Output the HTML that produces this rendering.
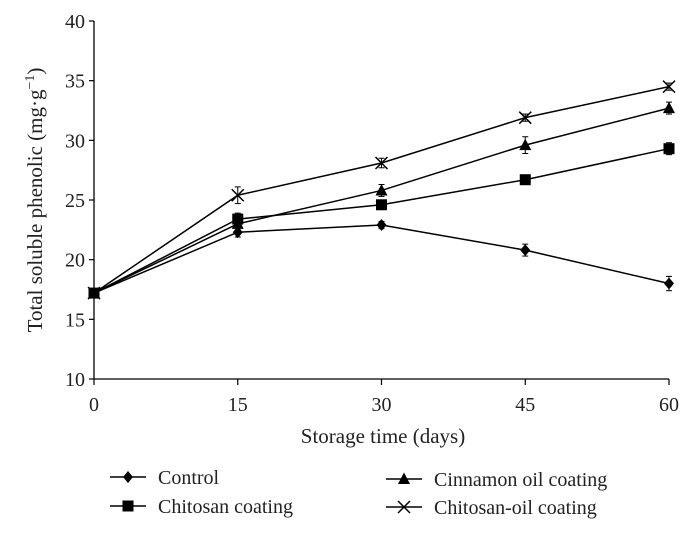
<!DOCTYPE html>
<html><head><meta charset="utf-8"><style>
html,body{margin:0;padding:0;background:#fff;}
svg{display:block;font-family:"Liberation Serif",serif;}
</style></head><body>
<svg id="chart" width="692" height="533" viewBox="0 0 692 533"></svg>
<script>
const days=[0,15,30,45,60];
const yTicks=[10,15,20,25,30,35,40];
const control=[17.2,22.3,22.9,20.8,18.0];
const controlErr=[0.3,0.4,0.3,0.5,0.6];
const chitosan=[17.2,23.4,24.6,26.7,29.3];
const chitosanErr=[0.3,0.5,0.3,0.3,0.5];
const cinnamon=[17.2,23.0,25.8,29.6,32.7];
const cinnamonErr=[0.3,0.5,0.5,0.7,0.5];
const chitoOil=[17.2,25.4,28.1,31.9,34.5];
const chitoOilErr=[0.3,0.7,0.4,0.3,0.3];
const seriesNames=["Control","Chitosan coating","Cinnamon oil coating","Chitosan-oil coating"];

const NS="http://www.w3.org/2000/svg";
const svg=document.getElementById('chart');
const X0=94,X1=669,Y0=379,Y1=21;
const xs=d=>X0+(d-0)/(60-0)*(X1-X0);
const ys=v=>Y0-(v-10)/(40-10)*(Y0-Y1);
function mk(tag,attrs,parent){const e=document.createElementNS(NS,tag);for(const k in attrs)e.setAttribute(k,attrs[k]);(parent||svg).appendChild(e);return e;}

const axes=mk('g',{});


const ya=mk('line',{x1:X0,y1:Y1,x2:X0,y2:Y0,stroke:'#000','stroke-width':1.3},axes);


const xa=mk('line',{x1:X0,y1:Y0,x2:X1,y2:Y0,stroke:'#000','stroke-width':1.3},axes);


yTicks.forEach(v=>{
  mk('line',{x1:X0-5,y1:ys(v),x2:X0,y2:ys(v),stroke:'#000','stroke-width':1.2},axes);
  const t=mk('text',{x:X0-9,y:ys(v)+7,'text-anchor':'end','font-size':20,fill:'#222'},axes);
  t.textContent=v;
  
  
});
days.forEach(d=>{
  mk('line',{x1:xs(d),y1:Y0,x2:xs(d),y2:Y0+6,stroke:'#000','stroke-width':1.2},axes);
  const t=mk('text',{x:xs(d),y:Y0+32,'text-anchor':'middle','font-size':20,fill:'#222'},axes);
  t.textContent=d;
  
  
});
const xt=mk('text',{x:383,y:443,'text-anchor':'middle','font-size':21,fill:'#222'});
xt.textContent='Storage time (days)';


const yt=mk('text',{x:0,y:0,'text-anchor':'middle','font-size':21,fill:'#222',transform:'translate(42,200) rotate(-90)'});
yt.innerHTML='Total soluble phenolic (mg·g<tspan dy="-8" font-size="14">−1</tspan><tspan dy="8">)</tspan>';



function marker(g,type,cx,cy){
  if(type==='diamond')mk('polygon',{points:`${cx},${cy-6} ${cx+5},${cy} ${cx},${cy+6} ${cx-5},${cy}`,fill:'#000'},g);
  else if(type==='square')mk('rect',{x:cx-5.5,y:cy-5.5,width:11,height:11,fill:'#000'},g);
  else if(type==='triangle')mk('polygon',{points:`${cx},${cy-6.5} ${cx+6},${cy+5} ${cx-6},${cy+5}`,fill:'#000'},g);
  else {mk('line',{x1:cx-6,y1:cy-6,x2:cx+6,y2:cy+6,stroke:'#000','stroke-width':1.5},g);mk('line',{x1:cx-6,y1:cy+6,x2:cx+6,y2:cy-6,stroke:'#000','stroke-width':1.5},g);}
}
const allSeries=[[control,controlErr,'diamond','series-control'],[chitosan,chitosanErr,'square','series-chitosan'],[cinnamon,cinnamonErr,'triangle','series-cinnamon'],[chitoOil,chitoOilErr,'cross','series-chitosan-oil']];
allSeries.forEach(([vals,errs,type,name])=>{
  const g=mk('g',{});
  
  
  const l=mk('polyline',{points:vals.map((v,i)=>xs(days[i])+','+ys(v)).join(' '),fill:'none',stroke:'#000','stroke-width':1.5},g);
  
  
  vals.forEach((v,i)=>{
    const x=xs(days[i]);
    mk('line',{x1:x,y1:ys(v+errs[i]),x2:x,y2:ys(v-errs[i]),stroke:'#000','stroke-width':1},g);
    mk('line',{x1:x-3,y1:ys(v+errs[i]),x2:x+3,y2:ys(v+errs[i]),stroke:'#000','stroke-width':1},g);
    mk('line',{x1:x-3,y1:ys(v-errs[i]),x2:x+3,y2:ys(v-errs[i]),stroke:'#000','stroke-width':1},g);
    marker(g,type,x,ys(v));
  });
});
const legPos=[[110,477,'diamond'],[110,506,'square'],[386,479,'triangle'],[386,507,'cross']];
legPos.forEach(([x,y,type],i)=>{
  const g=mk('g',{});
  
  
  mk('line',{x1:x,y1:y,x2:x+36,y2:y,stroke:'#000','stroke-width':1.5},g);
  marker(g,type,x+18,y);
  const t=mk('text',{x:x+48,y:y+7,'font-size':20,fill:'#222'},g);
  t.textContent=seriesNames[i];
});
</script>
</body></html>
